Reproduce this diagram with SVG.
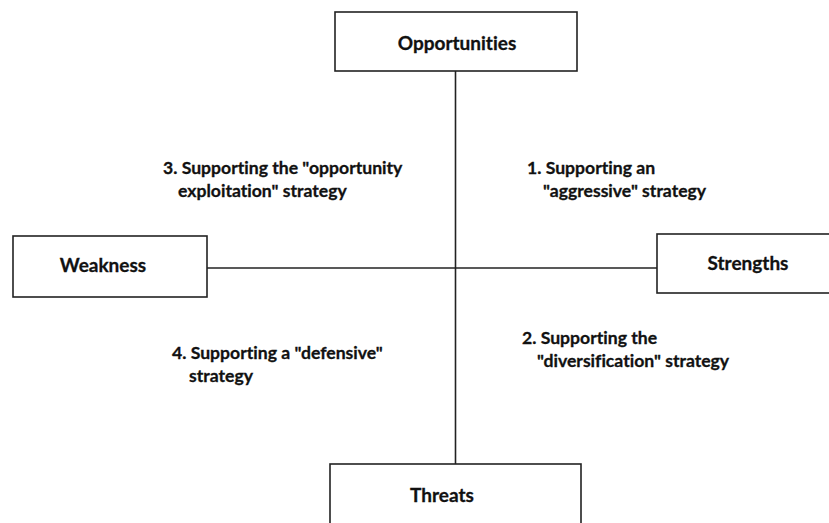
<svg xmlns="http://www.w3.org/2000/svg" width="829" height="523" viewBox="0 0 829 523">
<style>
.box{fill:#fff;stroke:#222;stroke-width:1.6}
.ln{stroke:#222;stroke-width:1.6;fill:none}
text{font-family:"Lato","Open Sans","Liberation Sans",sans-serif;font-weight:bold;fill:#111;stroke:#111;stroke-width:0.3;font-variant-ligatures:none}
.t{font-size:17.6px}
.lbl{font-size:19px;text-anchor:middle}
</style>
<rect width="829" height="523" fill="#fff"/>
<g id="connectors">
<line class="ln" x1="455.5" y1="71" x2="455.5" y2="464"/>
<line class="ln" x1="207" y1="268" x2="657" y2="268"/>
</g>
<g id="opportunities"><rect class="box" x="335" y="12" width="242" height="59"/><text class="lbl" x="457" y="50">Opportunities</text></g>
<g id="weakness"><rect class="box" x="13" y="236" width="194" height="61"/><text class="lbl" x="103" y="272">Weakness</text></g>
<g id="strengths"><rect class="box" x="657" y="234" width="180" height="59"/><text class="lbl" x="748" y="270">Strengths</text></g>
<g id="threats"><rect class="box" x="330" y="464" width="251" height="70"/><text class="lbl" x="442" y="502">Threats</text></g>
<g id="q3"><text class="t" x="163" y="174">3. Supporting the "opportunity</text><text class="t" x="178" y="197">exploitation" strategy</text></g>
<g id="q1"><text class="t" x="527" y="174">1. Supporting an</text><text class="t" x="543" y="197">"aggressive" strategy</text></g>
<g id="q4"><text class="t" x="172" y="359">4. Supporting a "defensive"</text><text class="t" x="189" y="382">strategy</text></g>
<g id="q2"><text class="t" x="522" y="344">2. Supporting the</text><text class="t" x="537" y="367">"diversification" strategy</text></g>
</svg>
